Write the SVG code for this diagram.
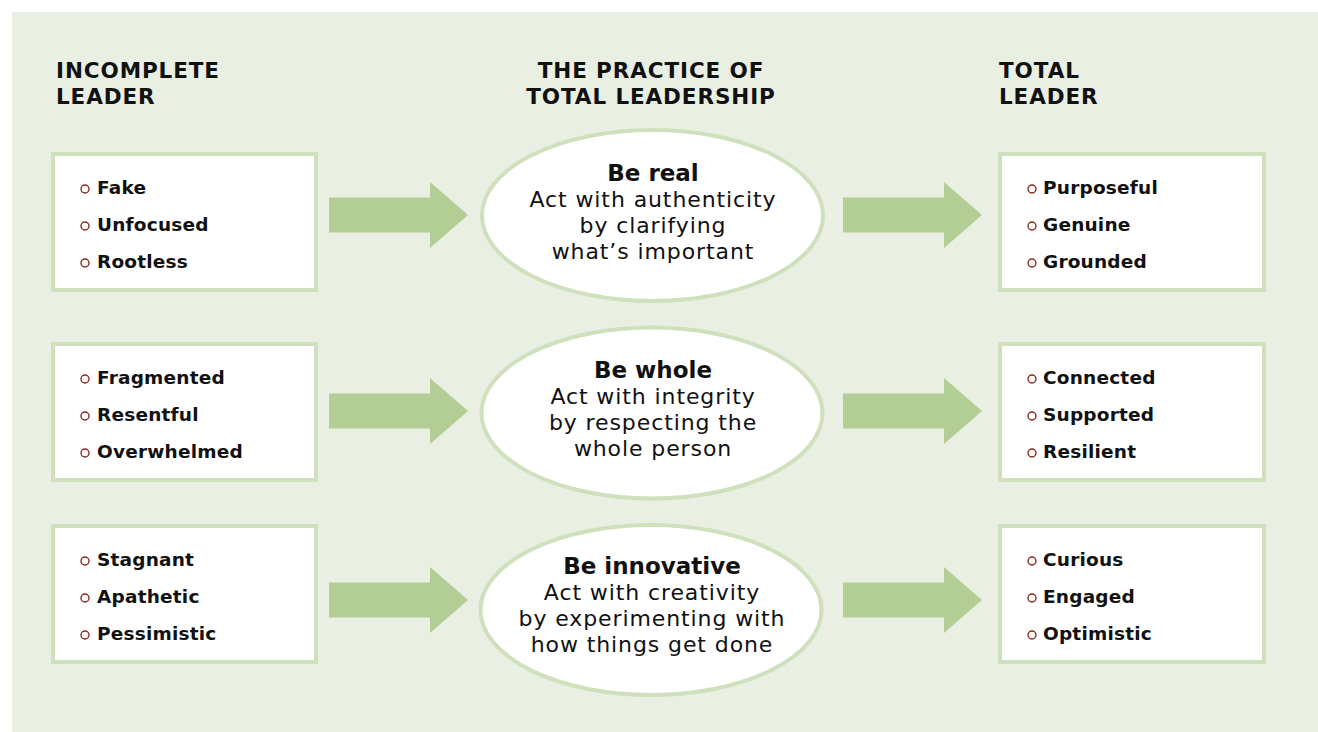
<svg xmlns="http://www.w3.org/2000/svg" width="1318" height="732" viewBox="0 0 1318 732">
<defs>
<style>
.bg{fill:#e9efe3}
.box{fill:#fff;stroke:#cfe0bd;stroke-width:4}
.ell{fill:#fff;stroke:#cfe0bd;stroke-width:4}
.arrow{fill:#b3ce94}
.hdr{font-family:"DejaVu Sans",sans-serif;font-weight:bold;font-size:21.5px;fill:#111;letter-spacing:0.9px}
.item{font-family:"DejaVu Sans",sans-serif;font-weight:bold;font-size:18.5px;fill:#111;letter-spacing:0.2px}
.dot{fill:none;stroke:#8b2a1e;stroke-width:1.4}
.title{font-family:"DejaVu Sans",sans-serif;font-weight:bold;font-size:23px;fill:#111;text-anchor:middle}
.desc{font-family:"DejaVu Sans",sans-serif;font-size:22px;fill:#111;text-anchor:middle;letter-spacing:0.9px}
</style>
<path id="arr" d="M0,-17.5 H101 V-33 L139,0 L101,33 V17.5 H0 Z"/>
</defs>
<rect class="bg" x="12" y="12" width="1306" height="720"/>
<g id="headers">
<text class="hdr" x="56" y="78">INCOMPLETE</text>
<text class="hdr" x="56" y="104">LEADER</text>
<text class="hdr" x="651" y="78" text-anchor="middle">THE PRACTICE OF</text>
<text class="hdr" x="651" y="104" text-anchor="middle">TOTAL LEADERSHIP</text>
<text class="hdr" x="999" y="78">TOTAL</text>
<text class="hdr" x="999" y="104">LEADER</text>
</g>
<g id="connectors">
<use href="#arr" class="arrow" x="329" y="215"/>
<use href="#arr" class="arrow" x="329" y="411"/>
<use href="#arr" class="arrow" x="329" y="600"/>
<use href="#arr" class="arrow" x="843" y="215"/>
<use href="#arr" class="arrow" x="843" y="411"/>
<use href="#arr" class="arrow" x="843" y="600"/>
</g>
<g id="incomplete-1">
<rect class="box" x="53" y="154" width="263" height="136"/>
<circle class="dot" cx="85" cy="189" r="4"/><text class="item" x="97" y="194">Fake</text>
<circle class="dot" cx="85" cy="226" r="4"/><text class="item" x="97" y="231">Unfocused</text>
<circle class="dot" cx="85" cy="263" r="4"/><text class="item" x="97" y="268">Rootless</text>
</g>
<g id="incomplete-2">
<rect class="box" x="53" y="344" width="263" height="136"/>
<circle class="dot" cx="85" cy="379" r="4"/><text class="item" x="97" y="384">Fragmented</text>
<circle class="dot" cx="85" cy="416" r="4"/><text class="item" x="97" y="421">Resentful</text>
<circle class="dot" cx="85" cy="453" r="4"/><text class="item" x="97" y="458">Overwhelmed</text>
</g>
<g id="incomplete-3">
<rect class="box" x="53" y="526" width="263" height="136"/>
<circle class="dot" cx="85" cy="561" r="4"/><text class="item" x="97" y="566">Stagnant</text>
<circle class="dot" cx="85" cy="598" r="4"/><text class="item" x="97" y="603">Apathetic</text>
<circle class="dot" cx="85" cy="635" r="4"/><text class="item" x="97" y="640">Pessimistic</text>
</g>
<g id="practice-1">
<ellipse class="ell" cx="652.5" cy="215.5" rx="170.5" ry="85.5"/>
<text class="title" x="653" y="181">Be real</text>
<text class="desc" x="653" y="207">Act with authenticity</text>
<text class="desc" x="653" y="233">by clarifying</text>
<text class="desc" x="653" y="259">what’s important</text>
</g>
<g id="practice-2">
<ellipse class="ell" cx="652" cy="413" rx="170.5" ry="85.5"/>
<text class="title" x="653" y="378">Be whole</text>
<text class="desc" x="653" y="404">Act with integrity</text>
<text class="desc" x="653" y="430">by respecting the</text>
<text class="desc" x="653" y="456">whole person</text>
</g>
<g id="practice-3">
<ellipse class="ell" cx="651" cy="610" rx="170.5" ry="85"/>
<text class="title" x="652" y="574">Be innovative</text>
<text class="desc" x="652" y="600">Act with creativity</text>
<text class="desc" x="652" y="626">by experimenting with</text>
<text class="desc" x="652" y="652">how things get done</text>
</g>
<g id="total-1">
<rect class="box" x="1000" y="154" width="264" height="136"/>
<circle class="dot" cx="1032" cy="189" r="4"/><text class="item" x="1043" y="194">Purposeful</text>
<circle class="dot" cx="1032" cy="226" r="4"/><text class="item" x="1043" y="231">Genuine</text>
<circle class="dot" cx="1032" cy="263" r="4"/><text class="item" x="1043" y="268">Grounded</text>
</g>
<g id="total-2">
<rect class="box" x="1000" y="344" width="264" height="136"/>
<circle class="dot" cx="1032" cy="379" r="4"/><text class="item" x="1043" y="384">Connected</text>
<circle class="dot" cx="1032" cy="416" r="4"/><text class="item" x="1043" y="421">Supported</text>
<circle class="dot" cx="1032" cy="453" r="4"/><text class="item" x="1043" y="458">Resilient</text>
</g>
<g id="total-3">
<rect class="box" x="1000" y="526" width="264" height="136"/>
<circle class="dot" cx="1032" cy="561" r="4"/><text class="item" x="1043" y="566">Curious</text>
<circle class="dot" cx="1032" cy="598" r="4"/><text class="item" x="1043" y="603">Engaged</text>
<circle class="dot" cx="1032" cy="635" r="4"/><text class="item" x="1043" y="640">Optimistic</text>
</g>
</svg>
